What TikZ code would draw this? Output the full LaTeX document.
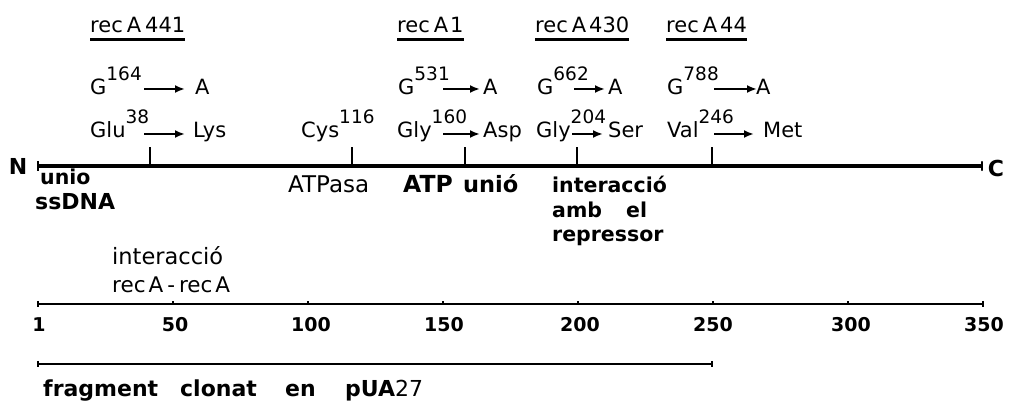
\documentclass[tikz,border=0pt]{standalone}
\usepackage{fontspec}
\setmainfont{DejaVu Sans}
\usetikzlibrary{arrows.meta}
\newcommand\fs[1]{\fontsize{#1}{#1}\selectfont}
\newcommand\upr[1]{\raisebox{14pt}{\fs{18.5}#1}}
\begin{document}
\begin{tikzpicture}[x=1pt,y=-1pt,
  txt/.style={inner sep=0pt, anchor=base west, font=\fs{21}},
  bld/.style={inner sep=0pt, anchor=base west, font=\fs{20.5}\bfseries},
  num/.style={inner sep=0pt, anchor=base, font=\fs{19}\bfseries},
  mut/.style={line width=2.2pt, -{Latex[length=10pt,width=8pt]}},
  uline/.style={line width=3pt},
  prot/.style={line width=4.5pt},
  endbar/.style={line width=2.2pt},
  tickmark/.style={line width=1.4pt},
  ruler/.style={line width=1.4pt},
  frag/.style={line width=2.5pt}]
\useasboundingbox (0,0) rectangle (1010,403);

% ---- headers
\node[txt] (h441) at (90,33) {rec\hspace{4pt}A\hspace{4pt}441};
\node[txt] (h1)   at (397,33) {rec\hspace{4pt}A\hspace{2pt}1};
\node[txt] (h430) at (535,33) {rec\hspace{4pt}A\hspace{3pt}430};
\node[txt] (h44)  at (666,33) {rec\hspace{4pt}A\hspace{3pt}44};
\foreach \h in {h441,h1,h430,h44}
  \draw[uline] ([yshift=-7pt]\h.base west) -- ([yshift=-7pt]\h.base east);

% ---- nucleotide changes
\node[txt] (g164) at (90,95) {G\upr{164}};
\node[txt] (nA1)  at (195,95) {A};
\coordinate (m1s) at (144,89); \coordinate (m1e) at (185,89);
\draw[mut] (m1s) -- (m1e);

\node[txt] (g531) at (398,95) {G\upr{531}};
\node[txt] (nA2)  at (483,95) {A};
\coordinate (m2s) at (443,89); \coordinate (m2e) at (480,89);
\draw[mut] (m2s) -- (m2e);

\node[txt] (g662) at (537,95) {G\upr{662}};
\node[txt] (nA3)  at (608,95) {A};
\coordinate (m3s) at (574,89); \coordinate (m3e) at (605,89);
\draw[mut] (m3s) -- (m3e);

\node[txt] (g788) at (667,95) {G\upr{788}};
\node[txt] (nA4)  at (756,95) {A};
\coordinate (m4s) at (714,89); \coordinate (m4e) at (757,89);
\draw[mut] (m4s) -- (m4e);

% ---- amino acid changes
\node[txt] (glu) at (90,138) {Glu\upr{38}};
\node[txt] (lys) at (193,138) {Lys};
\coordinate (p1s) at (144,134); \coordinate (p1e) at (185,134);
\draw[mut] (p1s) -- (p1e);

\node[txt] (cys) at (301,138) {Cys\upr{116}};

\node[txt] (gly1) at (397,138) {Gly\upr{160}};
\node[txt] (asp)  at (483,138) {Asp};
\coordinate (p2s) at (443,134); \coordinate (p2e) at (480,134);
\draw[mut] (p2s) -- (p2e);

\node[txt] (gly2) at (536,138) {Gly\upr{204}};
\node[txt] (ser)  at (608,138) {Ser};
\coordinate (p3s) at (572,134); \coordinate (p3e) at (603,134);
\draw[mut] (p3s) -- (p3e);

\node[txt] (val) at (667,138) {Val\upr{246}};
\node[txt] (met) at (763,138) {Met};
\coordinate (p4s) at (714,134); \coordinate (p4e) at (754,134);
\draw[mut] (p4s) -- (p4e);

% ---- protein line
\coordinate (Nend) at (38,166);
\coordinate (Cend) at (982,166);
\draw[prot] (Nend) -- (Cend);
\draw[endbar] ([yshift=5pt]Nend) -- ([yshift=-5pt]Nend);
\draw[endbar, line cap=round] ([yshift=4pt]Cend) -- ([yshift=-4pt]Cend);
\node[inner sep=0pt, font=\fs{22}\bfseries] (N) at (18,166) {N};
\node[inner sep=0pt, font=\fs{22}\bfseries] (C) at (996,168) {C};
\foreach \x/\n in {150/t1,352/t2,465/t3,577/t4,712/t5}{
  \coordinate (\n) at (\x,166);
  \draw[tickmark] (\n) -- ++(0,-19);
}

% ---- domain labels
\node[bld] (unio) at (40,185) {unio};
\node[bld, font=\fs{22}\bfseries] (ssdna) at (35,210) {ssDNA};
\node[txt, font=\fs{23}] (atpasa) at (288,193) {ATPasa};
\node[bld, font=\fs{23.5}\bfseries] (atp) at (403,193) {ATP};
\node[bld, font=\fs{22.5}\bfseries] (unio2) at (463,193) {unió};
\node[bld] (int1) at (552,193) {interacció};
\node[bld] (amb) at (552,218) {amb};
\node[bld] (el) at (626,218) {el};
\node[bld] (rep) at (552,242) {repressor};
\node[txt, font=\fs{22.5}] (int2) at (112,265) {interacció};
\node[txt, font=\fs{21.5}] (recrec) at (112,293) {rec\hspace{3pt}A\hspace{4pt}-\hspace{4pt}rec\hspace{3pt}A};

% ---- ruler
\coordinate (r0) at (38,304);
\coordinate (r350) at (983,304);
\draw[ruler] (r0) -- (r350);
\draw[tickmark] ([yshift=3pt]r0) -- ([yshift=-3pt]r0);
\draw[tickmark] ([yshift=3pt]r350) -- ([yshift=-3pt]r350);
\foreach \v in {50,100,...,300}{
  \coordinate (rt\v) at (38+2.7*\v,304);
  \draw[tickmark] (rt\v) -- ++(0,-3);
}
\foreach \x/\t/\n in {39/1/n1,175/50/n50,311/100/n100,444/150/n150,580/200/n200,713/250/n250,851/300/n300,984/350/n350}
  \node[num] (\n) at (\x,332) {\t};

% ---- cloned fragment
\coordinate (f0) at (38,364);
\coordinate (f1) at (712,364);
\draw[frag] (f0) -- (f1);
\draw[tickmark] ([yshift=3pt]f0) -- ([yshift=-3pt]f0);
\draw[tickmark] ([yshift=3pt]f1) -- ([yshift=-3pt]f1);
\node[bld, font=\fs{22}\bfseries] (w1) at (43,396) {fragment};
\node[bld, font=\fs{22}\bfseries] (w2) at (180,396) {clonat};
\node[bld, font=\fs{22}\bfseries] (w3) at (285,396) {en};
\node[bld, font=\fs{22}\bfseries] (w4) at (345,396) {pUA{\mdseries 27}};
\end{tikzpicture}
\end{document}
